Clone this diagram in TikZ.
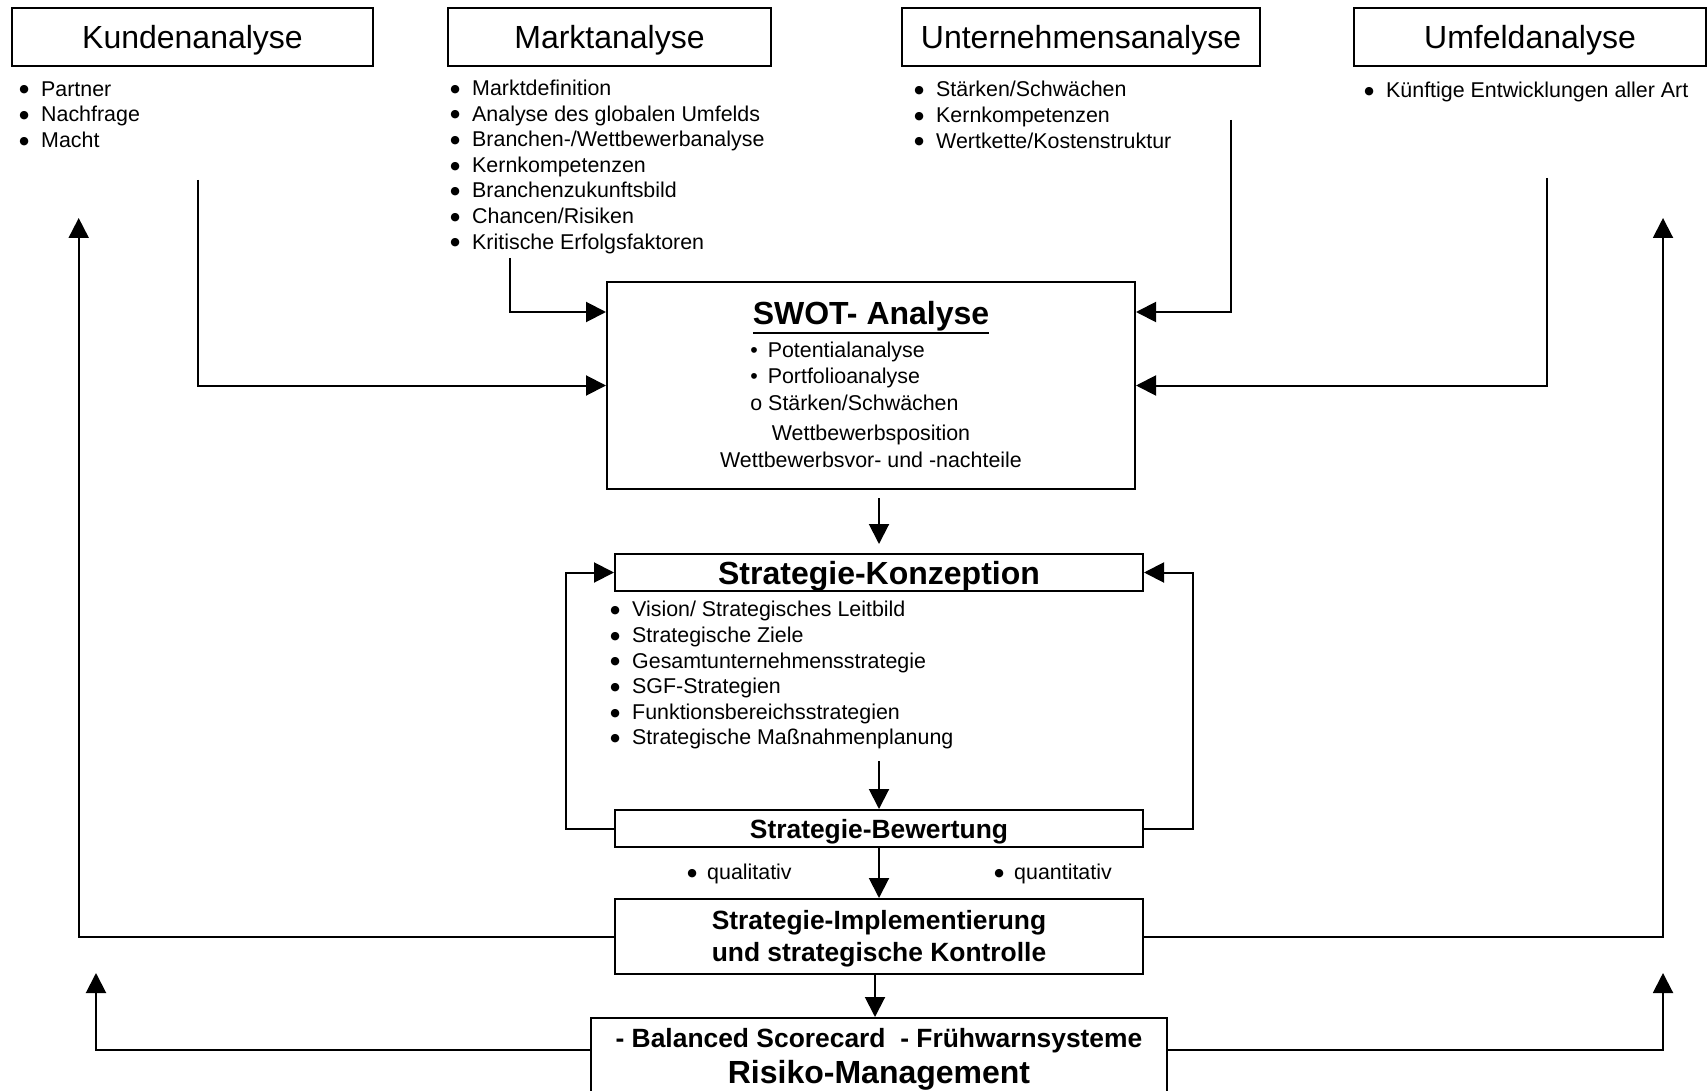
\documentclass[tikz,border=0pt]{standalone}
\usepackage{fontspec}
\setmainfont{Liberation Sans}
\newfontfamily\dotfont{DejaVu Sans}
\usepackage{tikz}
\usetikzlibrary{arrows.meta, positioning, calc}
\newcommand{\fsmall}{\fontsize{10.7pt}{12.8pt}\selectfont}
\newcommand{\fswot}{\fontsize{10.7pt}{13.3pt}\selectfont}
\newcommand{\fmid}{\fontsize{13.2pt}{16.2pt}\selectfont\bfseries}
\newcommand{\fbig}{\fontsize{16pt}{19pt}\selectfont}
\newcommand{\bigdot}{\raisebox{1.6pt}{\dotfont\fontsize{5.5pt}{5.5pt}\selectfont ●}}
\newcommand{\itm}[1][10.9pt]{\makebox[#1][l]{\bigdot}}
\newcommand{\thickul}[1]{\vtop{\hbox{#1}\kern0.6pt\hrule height 1.2pt}}
\tikzset{
	box_top/.style={rectangle, draw=black, line width=1pt, font=\fbig, text depth=0pt, inner sep=0pt, minimum height=29pt},
	box_main/.style={rectangle, draw=black, line width=1pt, inner sep=0pt, minimum width=264pt},
	list_text/.style={anchor=north west, inner sep=0pt, align=left, font=\fsmall},
	label_text/.style={inner sep=0pt, text depth=0pt},
	conn_line/.style={draw=black, line width=1pt},
	conn_arrow/.style={conn_line, -{Triangle[length=10pt, width=10pt]}}
}

\begin{document}
\begin{tikzpicture}[x=0.5pt, y=-0.5pt]
	\useasboundingbox (0,0) rectangle (1708,1091);
	\fill[white] (0,0) rectangle (1708,1091);
	\clip (0,0) rectangle (1708,1091);
	\node[box_top, minimum width=180.5pt] (kunde) at (192.5,37) {Kundenanalyse};
	\node[box_top, minimum width=161.5pt] (markt) at (609.5,37) {Marktanalyse};
	\node[box_top, minimum width=179pt] (unter) at (1081,37) {Unternehmensanalyse};
	\node[box_top, minimum width=176pt] (umfeld) at (1530,37) {Umfeldanalyse};
	\node[list_text] (kunde_list) at (19,81) {\itm Partner\\ \itm Nachfrage\\ \itm Macht};
	\node[list_text] (markt_list) at (450,79.5) {\itm Marktdefinition\\ \itm Analyse des globalen Umfelds\\ \itm Branchen-/Wettbewerbanalyse\\ \itm Kernkompetenzen\\ \itm Branchenzukunftsbild\\ \itm Chancen/Risiken\\ \itm Kritische Erfolgsfaktoren};
	\node[list_text] (unter_list) at (914,81) {\itm Stärken/Schwächen\\ \itm Kernkompetenzen\\ \itm Wertkette/Kostenstruktur};
	\node[list_text] (umfeld_list) at (1364,82) {\itm Künftige Entwicklungen aller Art};
	\node[box_main, minimum height=103.5pt] (swot) at (871,385.5) {};
	\node[label_text, font=\fbig\bfseries] (swot_title) at (871,312.5) {\thickul{SWOT- Analyse}};
	\node[list_text, font=\fswot] (swot_list) at (750,341.3) {\makebox[8.7pt][l]{\textbullet}Potentialanalyse\\ \makebox[8.7pt][l]{\textbullet}Portfolioanalyse\\ o Stärken/Schwächen};
	\node[inner sep=0pt, anchor=north, align=center, font=\fswot] (swot_note) at (871,425) {Wettbewerbsposition\\ Wettbewerbsvor- und -nachteile};
	\node[box_main, minimum height=18.5pt, font=\fbig\bfseries, text depth=0pt] (konz) at (879,572.5) {Strategie-Konzeption};
	\node[list_text] (konz_list) at (610,601) {\itm Vision/ Strategisches Leitbild\\ \itm Strategische Ziele\\ \itm Gesamtunternehmensstrategie\\ \itm SGF-Strategien\\ \itm Funktionsbereichsstrategien\\ \itm Strategische Maßnahmenplanung};
	\node[box_main, minimum height=18.5pt, font=\fmid, text depth=0pt] (bew) at (879,828.5) {Strategie-Bewertung};
	\node[label_text, anchor=west, font=\fsmall] (qual) at (687,871.5) {\itm[9.9pt]qualitativ};
	\node[label_text, anchor=west, font=\fsmall] (quant) at (994,871.5) {\itm[9.9pt]quantitativ};
	\node[box_main, minimum height=37.5pt, font=\fmid, align=center] (impl) at (879,936.5) {\rule{0pt}{12pt}Strategie-Implementierung\\ und strategische Kontrolle};
	\node[box_main, minimum width=288pt, minimum height=50pt, anchor=north] (risk) at (879,1017) {};
	\node[label_text, font=\fmid] (risk_sub) at (879,1037.5) {- Balanced Scorecard\ \ - Frühwarnsysteme};
	\node[label_text, font=\fbig\bfseries] (risk_title) at (879,1072) {Risiko-Management};
	\coordinate (kunde_out) at (198,180);
	\coordinate (markt_out) at (510,258);
	\coordinate (unter_out) at (1231,120);
	\coordinate (umfeld_out) at (1547,178);
	\coordinate (swot_in) at (0,312);
	\coordinate (konz_out) at (879,761);
	\coordinate (back_l) at (78.7,218);
	\coordinate (back_r) at (1663,218);
	\coordinate (risk_l) at (96,973);
	\coordinate (risk_r) at (1663,973);
	\draw[conn_arrow] (kunde_out) |- (swot.west);
	\draw[conn_arrow] (markt_out) |- (swot.west |- swot_in);
	\draw[conn_arrow] (unter_out) |- (swot.east |- swot_in);
	\draw[conn_arrow] (umfeld_out) |- (swot.east);
	\draw[conn_arrow, shorten <=4pt, shorten >=4.5pt] (swot.south -| konz.north) -- (konz.north);
	\draw[conn_arrow] (konz_out) -- (konz_out |- bew.north);
	\draw[conn_arrow] (bew.west) -- ++(-48.5,0) |- (konz.west);
	\draw[conn_arrow] (bew.east) -- ++(49,0) |- (konz.east);
	\draw[conn_arrow] (bew.south) -- (impl.north);
	\draw[conn_arrow] ([xshift=-2pt]impl.south) -- ([xshift=-2pt]risk.north);
	\draw[conn_arrow] (impl.west) -| (back_l);
	\draw[conn_arrow] (impl.east) -| (back_r);
	\draw[conn_arrow] ([yshift=-16.5pt]risk.north west) -| (risk_l);
	\draw[conn_arrow] ([yshift=-16.5pt]risk.north east) -| (risk_r);
\end{tikzpicture}
\end{document}
